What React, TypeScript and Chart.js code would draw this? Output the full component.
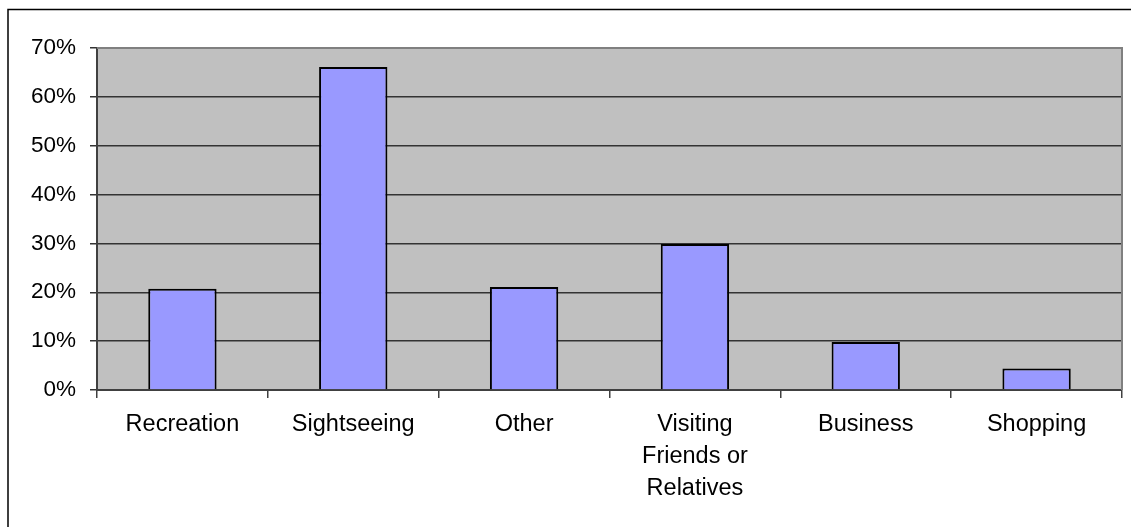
import { useEffect, useRef } from 'react';
import Chart from 'chart.js/auto';

const categories: (string | string[])[] = [
    'Recreation',
    'Sightseeing',
    'Other',
    ['Visiting', 'Friends or', 'Relatives'],
    'Business',
    'Shopping',
];
const shares = [20.7, 66.1, 21.1, 29.9, 9.8, 4.4];
const yTicks = [0, 10, 20, 30, 40, 50, 60, 70];

const FONT = '"Liberation Sans", Arial, sans-serif';

const frame = {
    id: 'frame',
    beforeDraw(chart: Chart) {
        const { ctx, chartArea: a } = chart;
        ctx.save();
        ctx.fillStyle = '#c0c0c0';
        ctx.fillRect(a.left, a.top, a.right - a.left, a.bottom - a.top);
        ctx.strokeStyle = '#000';
        ctx.lineWidth = 1.5;
        ctx.beginPath();
        ctx.moveTo(8, 527);
        ctx.lineTo(8, 9.5);
        ctx.lineTo(1131, 9.5);
        ctx.stroke();
        ctx.restore();
    },
    beforeDatasetsDraw(chart: Chart) {
        const { ctx, chartArea: a } = chart;
        ctx.save();
        ctx.strokeStyle = '#808080';
        ctx.lineWidth = 2;
        ctx.beginPath();
        ctx.moveTo(a.left, a.top);
        ctx.lineTo(a.right, a.top);
        ctx.lineTo(a.right, a.bottom);
        ctx.stroke();
        ctx.restore();
    },
};

export default function App() {
    const canvasRef = useRef<HTMLCanvasElement | null>(null);
    const chartRef = useRef<Chart | null>(null);

    useEffect(() => {
        if (!canvasRef.current) return;
        chartRef.current?.destroy();
        chartRef.current = new Chart(canvasRef.current, {
            type: 'bar',
            data: {
                labels: categories,
                datasets: [
                    {
                        label: 'Share',
                        data: shares,
                        backgroundColor: '#9999ff',
                        borderColor: '#000',
                        borderWidth: 2,
                        categoryPercentage: 0.8,
                        barPercentage: 0.5,
                    },
                ],
            },
            options: {
                responsive: true,
                maintainAspectRatio: false,
                animation: false,
                layout: { padding: { top: 48, right: 9, left: 0, bottom: 0 } },
                plugins: { legend: { display: false }, tooltip: { enabled: false } },
                scales: {
                    x: {
                        afterFit: (s: any) => { s.height = 137; },
                        grid: {
                            offset: true,
                            drawOnChartArea: false,
                            drawTicks: true,
                            tickLength: 8,
                            color: '#404040',
                            lineWidth: 1.5,
                        },
                        border: { color: '#404040', width: 2 },
                        ticks: {
                            color: '#000',
                            padding: 11,
                            maxRotation: 0,
                            autoSkip: false,
                            font: { family: FONT, size: 23.5, lineHeight: 1.35 },
                        },
                    },
                    y: {
                        min: 0,
                        max: 70,
                        afterFit: (s: any) => { s.width = 97; },
                        afterBuildTicks: (s: any) => { s.ticks = yTicks.map(v => ({ value: v })); },
                        grid: {
                            color: '#333',
                            lineWidth: 1.5,
                            tickLength: 7,
                        },
                        border: { color: '#404040', width: 2 },
                        ticks: {
                            color: '#000',
                            padding: 14,
                            callback: (v: any) => `${v}%`,
                            font: { family: FONT, size: 22.5 },
                        },
                    },
                },
            },
            plugins: [frame],
        });
        return () => chartRef.current?.destroy();
    }, []);

    return (
        <div style={{ position: 'absolute', left: 0, top: 0, width: 1131, height: 527, background: '#fff' }}>
            <canvas ref={canvasRef} />
        </div>
    );
}
